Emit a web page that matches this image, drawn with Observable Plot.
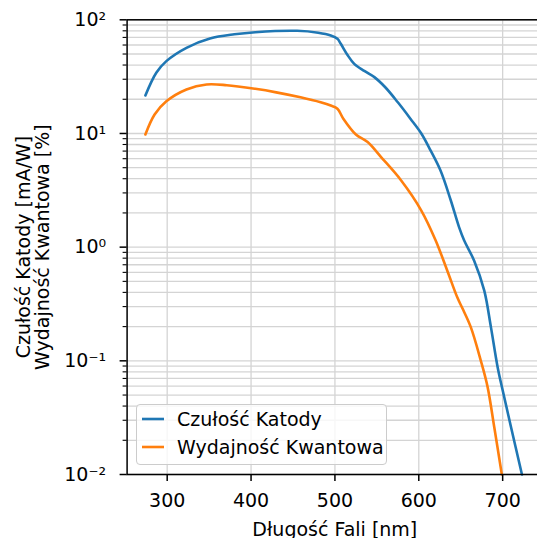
<!DOCTYPE html>
<html>
<head>
<meta charset="utf-8">
<script src="https://cdn.jsdelivr.net/npm/d3@7"></script>
<script src="https://cdn.jsdelivr.net/npm/@observablehq/plot@0.6"></script>
<style>
  html, body { margin: 0; padding: 0; background: #fff; overflow: hidden; }
  #wrap { position: relative; width: 542px; height: 538px; font-family: "DejaVu Sans", sans-serif; }
  #legend { position: absolute; left: 136px; top: 404px; width: 251px; height: 61px; box-sizing: border-box;
            border: 1px solid #cccccc; border-radius: 4px; background: rgba(255,255,255,0.8); }
</style>
</head>
<body>
<div id="wrap"></div>
<script>
// ---- data ----
const seriesNames = ["Czułość Katody", "Wydajność Kwantowa"];
const seriesColors = ["#1f77b4", "#ff7f0e"];

const wavelengthKatody = [274, 287, 299, 323, 351, 380, 405, 455, 480, 495, 503, 507, 515, 523, 535, 547, 560, 575, 590, 603, 614, 626, 638, 648, 654, 666, 678, 686, 694, 700, 710, 723];
const czuloscKatody    = [21.6, 34.2, 43.3, 56.7, 68.4, 74.5, 77.8, 80, 77, 72.8, 68, 61.5, 49, 41, 35.5, 31.3, 25.5, 18.8, 13.5, 10, 7.1, 4.7, 2.6, 1.5, 1.15, 0.76, 0.416, 0.198, 0.088, 0.055, 0.026, 0.01];

const wavelengthKwant  = [274, 285, 299, 323, 347, 371, 405, 430, 459, 483, 495, 503, 510, 525, 539, 555, 579, 603, 620, 634, 646, 652, 662, 674, 682, 690, 699];
const wydajnoscKwant   = [9.8, 14.7, 19.2, 24.4, 27, 26.6, 24.7, 23, 20.8, 18.8, 17.6, 16.5, 13.5, 9.8, 8.4, 6.2, 3.86, 2.1, 1.15, 0.62, 0.36, 0.29, 0.198, 0.1, 0.059, 0.026, 0.01];

const xTicks = [300, 400, 500, 600, 700];
const yMajorTicks = [0.01, 0.1, 1, 10, 100];
const yMinorMultipliers = [2, 3, 4, 5, 6, 7, 8, 9];
const xLabel = "Długość Fali [nm]";
const yLabelLines = ["Czułość Katody [mA/W]", "Wydajność Kwantowa [%]"];

// ---- build table ----
const rows = [
  ...wavelengthKatody.map((w, i) => ({series: seriesNames[0], wl: w, v: czuloscKatody[i]})),
  ...wavelengthKwant.map((w, i) => ({series: seriesNames[1], wl: w, v: wydajnoscKwant[i]}))
];
const yMinorTicks = yMajorTicks.slice(0, -1).flatMap(d => yMinorMultipliers.map(m => +(m * d).toPrecision(3)));

const supMap = {"-": "⁻", "0": "⁰", "1": "¹", "2": "²", "3": "³", "4": "⁴", "5": "⁵", "6": "⁶", "7": "⁷", "8": "⁸", "9": "⁹"};
const supFmt = d => "10" + String(Math.round(Math.log10(d))).split("").map(c => supMap[c]).join("");

const gridStyle = {stroke: "#d4d4d4", strokeOpacity: 1, strokeWidth: 1.3};

const chart = Plot.plot({
  width: 542,
  height: 538,
  marginLeft: 126.6,
  marginRight: 0,
  marginTop: 19.3,
  marginBottom: 64,
  style: {fontFamily: "DejaVu Sans", fontSize: "19px", color: "#000", background: "transparent", overflow: "visible"},
  x: {domain: [252.2, 747.5]},
  y: {type: "log", domain: [0.01, 100]},
  color: {domain: seriesNames, range: seriesColors},
  marks: [
    Plot.gridY({ticks: yMinorTicks, ...gridStyle}),
    Plot.gridY({ticks: yMajorTicks, ...gridStyle}),
    Plot.gridX({ticks: xTicks, ...gridStyle}),
    Plot.line(rows, {x: "wl", y: "v", z: "series", stroke: "series", curve: "catmull-rom", strokeWidth: 2.6}),
    Plot.frame({stroke: "#000", strokeWidth: 1.5}),
    Plot.axisX({ticks: xTicks, tickSize: 7, tickPadding: 12, strokeWidth: 1.5, label: null, fontSize: 19}),
    Plot.axisY({ticks: yMajorTicks, tickSize: 7, tickPadding: 14, tickFormat: supFmt, strokeWidth: 1.5, label: null, fontSize: 19}),
    Plot.axisY({ticks: yMinorTicks, tickSize: 4, tickFormat: () => "", strokeWidth: 1.1, label: null}),
    Plot.text([xLabel], {frameAnchor: "bottom", lineAnchor: "top", dy: 48, text: d => d, fontSize: 19}),
    Plot.text([yLabelLines.join("\n")], {frameAnchor: "left", textAnchor: "middle", rotate: -90, lineAnchor: "middle", lineHeight: 1.0, dx: -94, text: d => d, fontSize: 19})
  ]
});

const wrap = document.getElementById("wrap");
wrap.appendChild(chart);

// ---- legend ----
const legend = document.createElement("div");
legend.id = "legend";
wrap.appendChild(legend);
const lsvg = d3.select(legend).append("svg").attr("width", 249).attr("height", 59)
  .style("position", "absolute").style("left", "0px").style("top", "0px")
  .style("font-family", "DejaVu Sans").style("font-size", "19px");
seriesNames.forEach((name, i) => {
  const yRow = 14 + i * 28;
  lsvg.append("line").attr("x1", 5).attr("x2", 27).attr("y1", yRow).attr("y2", yRow)
    .attr("stroke", seriesColors[i]).attr("stroke-width", 2.6);
  lsvg.append("text").attr("x", 40).attr("y", yRow + 7).attr("fill", "#000").text(name);
});
</script>
</body>
</html>
